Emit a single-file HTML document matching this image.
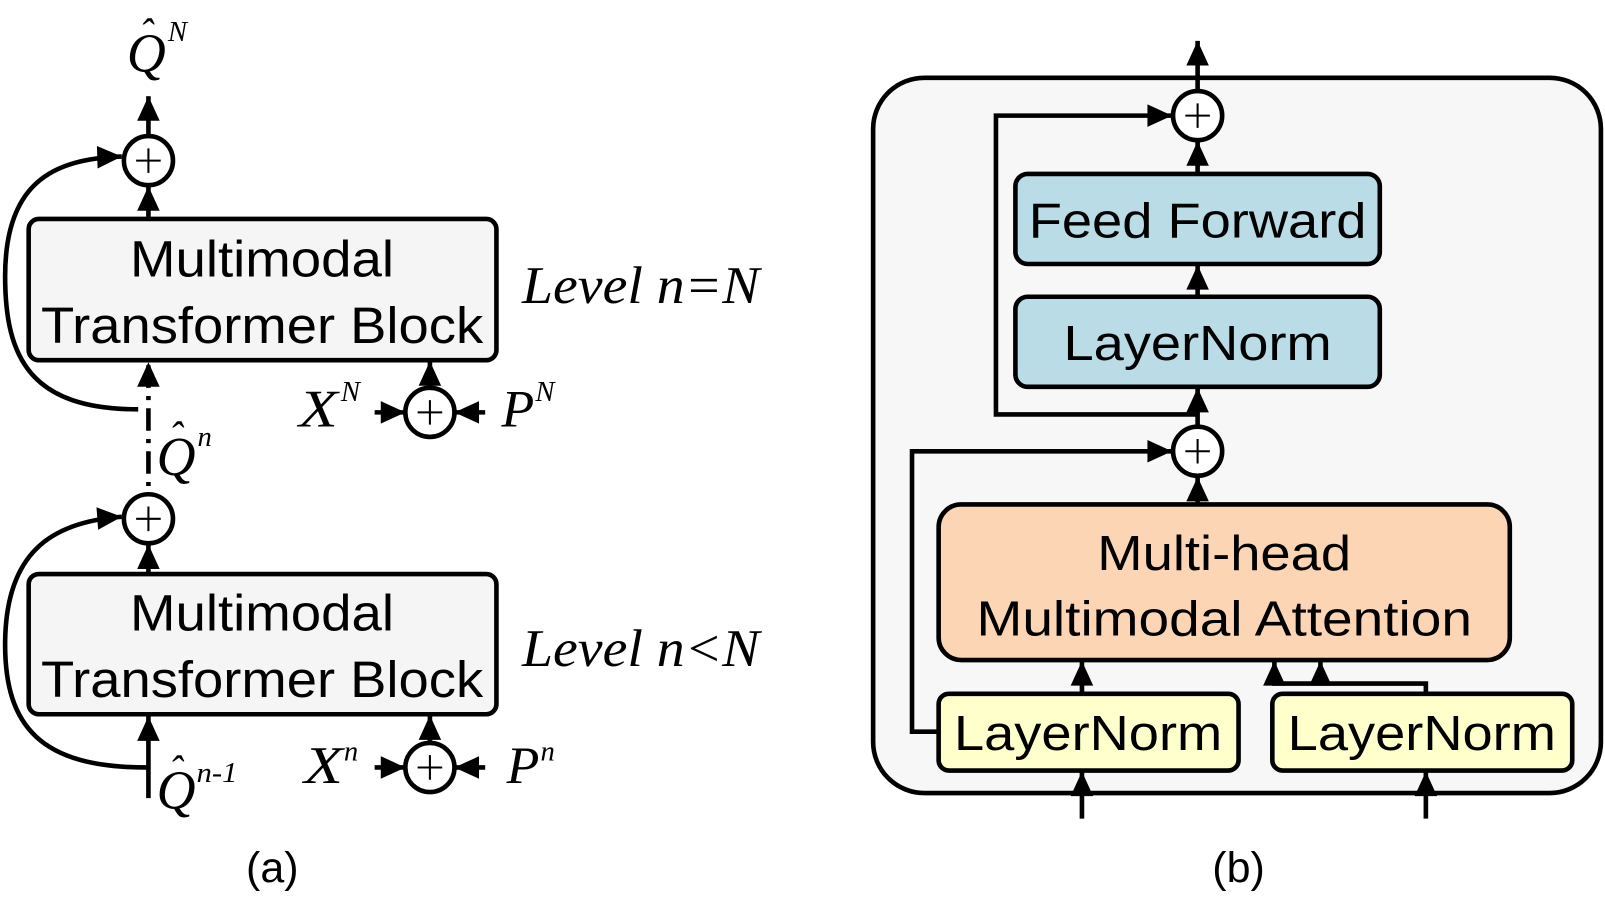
<!DOCTYPE html>
<html><head><meta charset="utf-8"><style>
html,body{margin:0;padding:0;background:#fff;}
svg{display:block;}
.s{font-family:"Liberation Sans",Arial,sans-serif;fill:#000;}
.m{font-family:"Liberation Serif","Times New Roman",serif;font-style:italic;fill:#000;}
</style></head><body>
<svg width="1605" height="923" viewBox="0 0 1568 902" preserveAspectRatio="none" xmlns="http://www.w3.org/2000/svg">
<defs>
<marker id="a" markerUnits="userSpaceOnUse" markerWidth="30" markerHeight="30" viewBox="0 0 30 30" refX="26" refY="15" orient="auto">
<path d="M2,4 L26,15 L2,26 Z" fill="#000"/></marker>
</defs>
<g fill="none" stroke="#000" stroke-width="4.5">
<!-- (a) top -->
<line x1="145" y1="133" x2="145" y2="94" marker-end="url(#a)"/>
<ellipse cx="145" cy="157" rx="24" ry="24" fill="#fff"/>
<line x1="145" y1="213" x2="145" y2="182" marker-end="url(#a)"/>
<rect x="28" y="214" width="457" height="138" rx="10" fill="#f5f5f5"/>
<path d="M135,400 C30,400 5,350 5,270 C5,180 50,155 119,153" marker-end="url(#a)"/>
<line x1="145" y1="505" x2="145" y2="354" stroke-dasharray="22,8,4,8" marker-end="url(#a)"/>
<ellipse cx="420" cy="403" rx="24" ry="24" fill="#fff"/>
<line x1="420" y1="379" x2="420" y2="353" marker-end="url(#a)"/>
<line x1="366" y1="403" x2="396" y2="403" marker-end="url(#a)"/>
<line x1="474" y1="403" x2="444" y2="403" marker-end="url(#a)"/>
<!-- (a) bottom -->
<ellipse cx="145" cy="507" rx="24" ry="24" fill="#fff"/>
<line x1="145" y1="560" x2="145" y2="532" marker-end="url(#a)"/>
<rect x="28" y="561" width="457" height="137" rx="10" fill="#f5f5f5"/>
<line x1="145" y1="780" x2="145" y2="700" marker-end="url(#a)"/>
<path d="M143,750 C40,750 5,710 5,630 C5,540 50,510 119,505" marker-end="url(#a)"/>
<ellipse cx="420" cy="750" rx="24" ry="24" fill="#fff"/>
<line x1="420" y1="726" x2="420" y2="699" marker-end="url(#a)"/>
<line x1="366" y1="750" x2="396" y2="750" marker-end="url(#a)"/>
<line x1="474" y1="750" x2="444" y2="750" marker-end="url(#a)"/>
<!-- (b) -->
<rect x="853" y="76" width="711" height="699" rx="50" fill="#f7f7f7"/>
<line x1="1170" y1="89" x2="1170" y2="40" marker-end="url(#a)"/>
<ellipse cx="1170" cy="113" rx="24" ry="24" fill="#fff"/>
<polyline points="1170,405 973,405 973,113 1145,113" marker-end="url(#a)"/>
<line x1="1170" y1="170" x2="1170" y2="138" marker-end="url(#a)"/>
<rect x="992" y="170" width="356" height="88" rx="12" fill="#b9dce7"/>
<line x1="1170" y1="290" x2="1170" y2="259" marker-end="url(#a)"/>
<rect x="992" y="290" width="356" height="88" rx="12" fill="#b9dce7"/>
<line x1="1170" y1="417" x2="1170" y2="379" marker-end="url(#a)"/>
<ellipse cx="1170" cy="441" rx="24" ry="24" fill="#fff"/>
<polyline points="917,715 891,715 891,441 1145,441" marker-end="url(#a)"/>
<line x1="1170" y1="493" x2="1170" y2="466" marker-end="url(#a)"/>
<rect x="917" y="493" width="558" height="152" rx="22" fill="#fcd5b5"/>
<line x1="1057" y1="678" x2="1057" y2="646" marker-end="url(#a)"/>
<polyline points="1393,678 1393,668 1245,668 1245,646" marker-end="url(#a)"/>
<line x1="1290" y1="668" x2="1290" y2="646" marker-end="url(#a)"/>
<rect x="917" y="678" width="293" height="75" rx="10" fill="#ffffcc"/>
<rect x="1243" y="678" width="293" height="75" rx="10" fill="#ffffcc"/>
<line x1="1057" y1="800" x2="1057" y2="754" marker-end="url(#a)"/>
<line x1="1393" y1="800" x2="1393" y2="754" marker-end="url(#a)"/>
</g>
<g stroke="#000" stroke-width="2">
<path d="M133,157 H157 M145,145 V169 M133,507 H157 M145,495 V519 M408,403 H432 M420,391 V415 M408,750 H432 M420,738 V762 M1158,113 H1182 M1170,101 V125 M1158,441 H1182 M1170,429 V453"/>
</g>
<!-- text (a) -->
<text class="s" x="256" y="270" font-size="50" text-anchor="middle" textLength="258" lengthAdjust="spacingAndGlyphs">Multimodal</text>
<text class="s" x="256" y="335" font-size="50" text-anchor="middle" textLength="432" lengthAdjust="spacingAndGlyphs">Transformer Block</text>
<text class="s" x="256" y="616" font-size="50" text-anchor="middle" textLength="258" lengthAdjust="spacingAndGlyphs">Multimodal</text>
<text class="s" x="256" y="681" font-size="50" text-anchor="middle" textLength="432" lengthAdjust="spacingAndGlyphs">Transformer Block</text>
<text class="m" x="510" y="296" font-size="52" textLength="232" lengthAdjust="spacingAndGlyphs">Level n=N</text>
<text class="m" x="510" y="651" font-size="52" textLength="232" lengthAdjust="spacingAndGlyphs">Level n&lt;N</text>
<text class="m" x="124" y="70" font-size="54" textLength="38" lengthAdjust="spacingAndGlyphs">Q</text><text class="m" x="136" y="46" font-size="40">ˆ</text><text class="m" x="164" y="40" font-size="28">N</text>
<text class="m" x="153" y="464" font-size="54" textLength="38" lengthAdjust="spacingAndGlyphs">Q</text><text class="m" x="165" y="440" font-size="40">ˆ</text><text class="m" x="193" y="436" font-size="28">n</text>
<text class="m" x="153" y="790" font-size="54" textLength="38" lengthAdjust="spacingAndGlyphs">Q</text><text class="m" x="165" y="766" font-size="40">ˆ</text><text class="m" x="192" y="764" font-size="28" textLength="40" lengthAdjust="spacingAndGlyphs">n-1</text>
<text class="m" x="292" y="417" font-size="52" textLength="38" lengthAdjust="spacingAndGlyphs">X</text><text class="m" x="333" y="392" font-size="28">N</text>
<text class="m" x="490" y="417" font-size="52" textLength="32" lengthAdjust="spacingAndGlyphs">P</text><text class="m" x="523" y="392" font-size="28">N</text>
<text class="m" x="297" y="765" font-size="52" textLength="38" lengthAdjust="spacingAndGlyphs">X</text><text class="m" x="336" y="743" font-size="28">n</text>
<text class="m" x="495" y="765" font-size="52" textLength="32" lengthAdjust="spacingAndGlyphs">P</text><text class="m" x="528" y="743" font-size="28">n</text>
<text class="s" x="266" y="862" font-size="42" text-anchor="middle">(a)</text>
<!-- text (b) -->
<text class="s" x="1170" y="232" font-size="48" text-anchor="middle" textLength="330" lengthAdjust="spacingAndGlyphs">Feed Forward</text>
<text class="s" x="1170" y="352" font-size="48" text-anchor="middle" textLength="262" lengthAdjust="spacingAndGlyphs">LayerNorm</text>
<text class="s" x="1196" y="557" font-size="48" text-anchor="middle" textLength="248" lengthAdjust="spacingAndGlyphs">Multi-head</text>
<text class="s" x="1196" y="621" font-size="48" text-anchor="middle" textLength="484" lengthAdjust="spacingAndGlyphs">Multimodal Attention</text>
<text class="s" x="1063" y="733" font-size="48" text-anchor="middle" textLength="262" lengthAdjust="spacingAndGlyphs">LayerNorm</text>
<text class="s" x="1389" y="733" font-size="48" text-anchor="middle" textLength="262" lengthAdjust="spacingAndGlyphs">LayerNorm</text>
<text class="s" x="1210" y="862" font-size="42" text-anchor="middle">(b)</text>
</svg>
</body></html>
